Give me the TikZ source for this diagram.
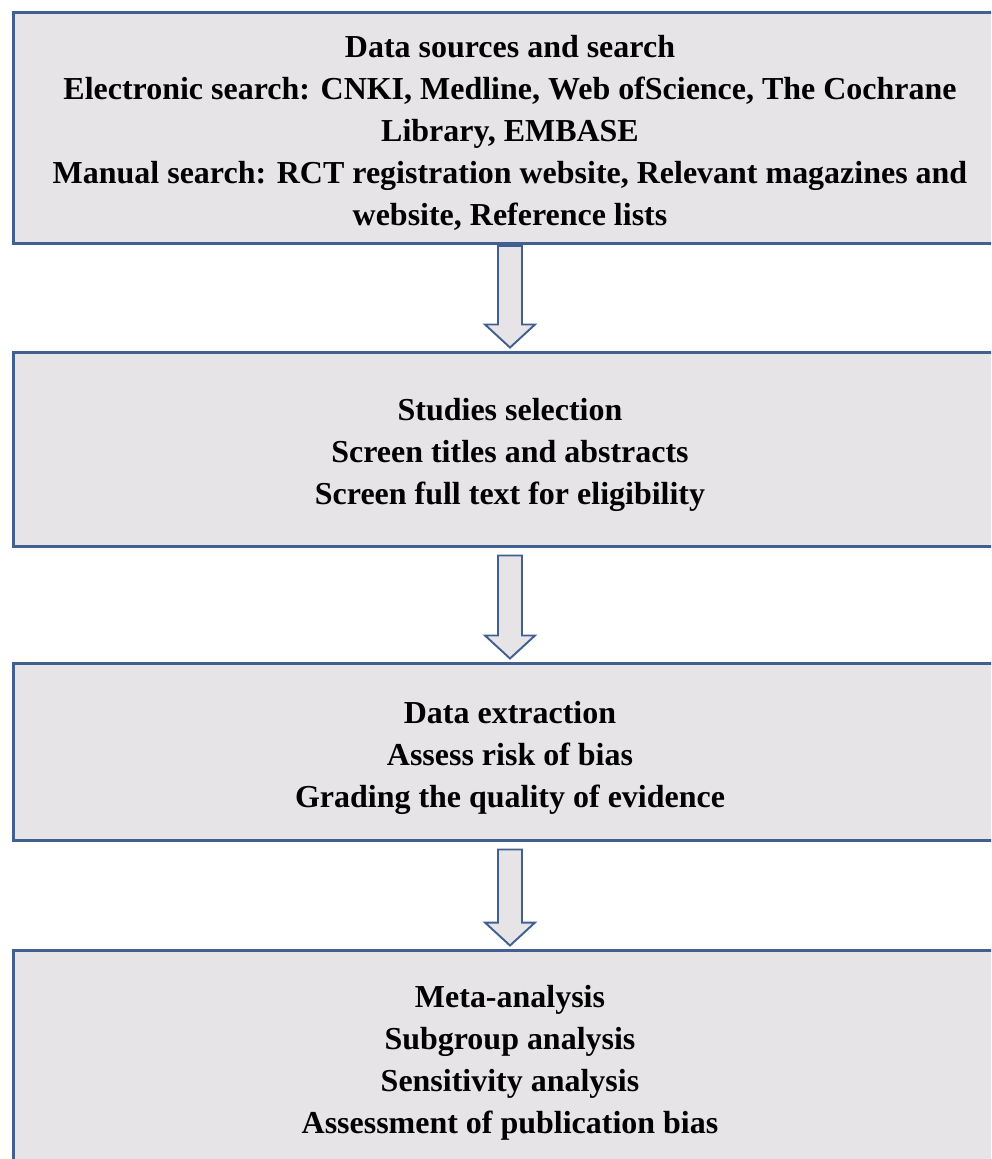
\documentclass[tikz,border=0pt]{standalone}
\usepackage{fontspec}
\setmainfont{Liberation Serif}
\usetikzlibrary{calc}
\definecolor{boxfill}{HTML}{E6E4E6}
\definecolor{boxline}{HTML}{41608F}

\tikzset{
	stepbox/.style={draw=boxline, fill=boxfill, line width=1.7pt, minimum width=19.88cm},
	steptext/.style={align=center, font=\fontsize{18.2}{23.9}\selectfont\bfseries},
	arrowline/.style={draw=boxline, fill=boxfill, line width=1.1pt, line join=miter}
}
\newcommand{\flowarrow}[3]{%
	\draw[arrowline] ($(#1.south)+(-12,#3)$) -- ($(#2.north)+(-12,-26)$) -- ($(#2.north)+(-25,-26)$)
	-- ($(#2.north)+(0,-3)$) -- ($(#2.north)+(25,-26)$) -- ($(#2.north)+(12,-26)$)
	-- ($(#1.south)+(12,#3)$) -- cycle;}

\begin{document}
\begin{tikzpicture}[x=0.02cm, y=-0.02cm]
		\useasboundingbox (0,0) rectangle (991,1159);
		\clip (0,0) rectangle (991,1159);
		
		% boxes
		\node (Search)[stepbox, minimum height=4.62cm] at (510,128) {};
		\node (Select)[stepbox, minimum height=3.9cm] at (510,449.5) {};
		\node (Extract)[stepbox, minimum height=3.56cm] at (510,752) {};
		\node (Meta)[stepbox, minimum height=4.4cm] at (510,1060) {};
		
		% texts
		\node (SearchText)[steptext] at (510,133) {Data sources and search\\Electronic search: CNKI, Medline, Web ofScience, The Cochrane\\Library, EMBASE\\Manual search: RCT registration website, Relevant magazines and\\website, Reference lists};
		\node (SelectText)[steptext] at (510,455) {Studies selection\\Screen titles and abstracts\\Screen full text for eligibility};
		\node (ExtractText)[steptext] at (510,758) {Data extraction\\Assess risk of bias\\Grading the quality of evidence};
		\node (MetaText)[steptext] at (510,1063) {Meta-analysis\\Subgroup analysis\\Sensitivity analysis\\Assessment of publication bias};
		
		\flowarrow{Search}{Select}{1}
		\flowarrow{Select}{Extract}{7}
		\flowarrow{Extract}{Meta}{7}
	\end{tikzpicture}
\end{document}
